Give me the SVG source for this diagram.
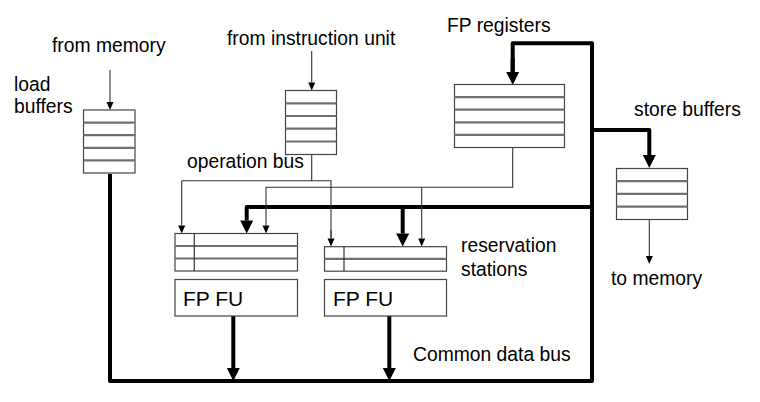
<svg xmlns="http://www.w3.org/2000/svg" width="760" height="402" viewBox="0 0 760 402">
<style>
text{font-family:"Liberation Sans",Arial,sans-serif;font-size:19.3px;fill:#000}
.fu{font-size:21px}
.box{fill:#fff;stroke:#444;stroke-width:1.2}
.sep{stroke:#707070;stroke-width:2.2}
.div{stroke:#333;stroke-width:1.2}
.thin{fill:none;stroke:#333;stroke-width:1.1}
.thick{fill:none;stroke:#000;stroke-width:4;stroke-linejoin:round}
</style>
<defs>
<marker id="ah" markerUnits="userSpaceOnUse" markerWidth="9" markerHeight="8" refX="0" refY="3.5" orient="auto" overflow="visible">
<path d="M0,0 L8,3.5 L0,7 z" fill="#000"/>
</marker>
<marker id="ahT" markerUnits="userSpaceOnUse" markerWidth="14" markerHeight="14" refX="0" refY="6.5" orient="auto" overflow="visible">
<path d="M0,0 L13,6.5 L0,13 z" fill="#000"/>
</marker>
</defs>
<rect width="760" height="402" fill="#fff"/>

<g id="connectors">
<path class="thick" d="M110,174 V381 H592 V43.3 H512.7 V72"/>
<path class="thick" d="M512.7,58 V72" marker-end="url(#ahT)"/>
<path class="thick" d="M592,130 H649.3 V155" marker-end="url(#ahT)"/>
<path class="thick" d="M592,207 H246.7 V220.5" marker-end="url(#ahT)"/>
<path class="thick" d="M402.7,207 V233.5" marker-end="url(#ahT)"/>
<path class="thick" d="M233.3,316 V368" marker-end="url(#ahT)"/>
<path class="thick" d="M389.3,316 V368" marker-end="url(#ahT)"/>
<path class="thin" d="M110,70 V102" marker-end="url(#ah)"/>
<path class="thin" d="M311.7,51 V82.5" marker-end="url(#ah)"/>
<path class="thin" d="M649.3,219 V256" marker-end="url(#ah)"/>
<path class="thin" d="M311.7,154.5 V180.7 M181.7,180.7 H331 V238.5"/>
<path class="thin" d="M331,230 V238.5" marker-end="url(#ah)"/>
<path class="thin" d="M181.7,180.7 V225.5" marker-end="url(#ah)"/>
<path class="thin" d="M512.7,147.5 V187.3 H266 V225.5" marker-end="url(#ah)"/>
<path class="thin" d="M421.7,187.3 V238.5" marker-end="url(#ah)"/>
</g>

<g id="load-buffers">
<rect class="box" x="83.5" y="110" width="51.5" height="63"/>
<path class="sep" d="M83.5,122.6 H135 M83.5,135.2 H135 M83.5,147.8 H135 M83.5,160.4 H135"/>
<text x="52" y="52">from memory</text>
<text x="14" y="91">load</text>
<text x="14" y="113">buffers</text>
</g>

<g id="instruction-queue">
<rect class="box" x="285.5" y="90.5" width="51" height="64"/>
<path class="sep" d="M285.5,103.3 H336.5 M285.5,116 H336.5 M285.5,128.7 H336.5 M285.5,141.5 H336.5"/>
<text x="227" y="45">from instruction unit</text>
<text x="187" y="168">operation bus</text>
</g>

<g id="fp-registers">
<rect class="box" x="454.5" y="84.5" width="110" height="63"/>
<path class="sep" d="M454.5,97.1 H564.5 M454.5,109.7 H564.5 M454.5,122.3 H564.5 M454.5,134.9 H564.5"/>
<text x="447" y="32">FP registers</text>
</g>

<g id="store-buffers">
<rect class="box" x="616.5" y="168.5" width="71" height="51"/>
<path class="sep" d="M616.5,181.2 H687.5 M616.5,193.9 H687.5 M616.5,206.6 H687.5"/>
<text x="634" y="116">store buffers</text>
<text x="611" y="285">to memory</text>
</g>

<g id="rs-left">
<rect class="box" x="175" y="233.5" width="122.5" height="37.5"/>
<path class="sep" d="M175,246 H297.5 M175,258.5 H297.5"/>
<path class="div" d="M194.3,233.5 V271"/>
</g>

<g id="rs-right">
<rect class="box" x="324.5" y="246.7" width="122" height="24.5"/>
<path class="sep" d="M324.5,258.9 H446.5"/>
<path class="div" d="M344,246.7 V271.2"/>
<text x="461" y="252">reservation</text>
<text x="461" y="276">stations</text>
</g>

<g id="fu-left">
<rect class="box" x="175" y="279.5" width="122.5" height="36.5"/>
<text class="fu" x="183" y="306">FP FU</text>
</g>

<g id="fu-right">
<rect class="box" x="324.5" y="279.5" width="122" height="36.5"/>
<text class="fu" x="333" y="306">FP FU</text>
</g>

<g id="cdb-label">
<text x="413" y="361">Common data bus</text>
</g>
</svg>
